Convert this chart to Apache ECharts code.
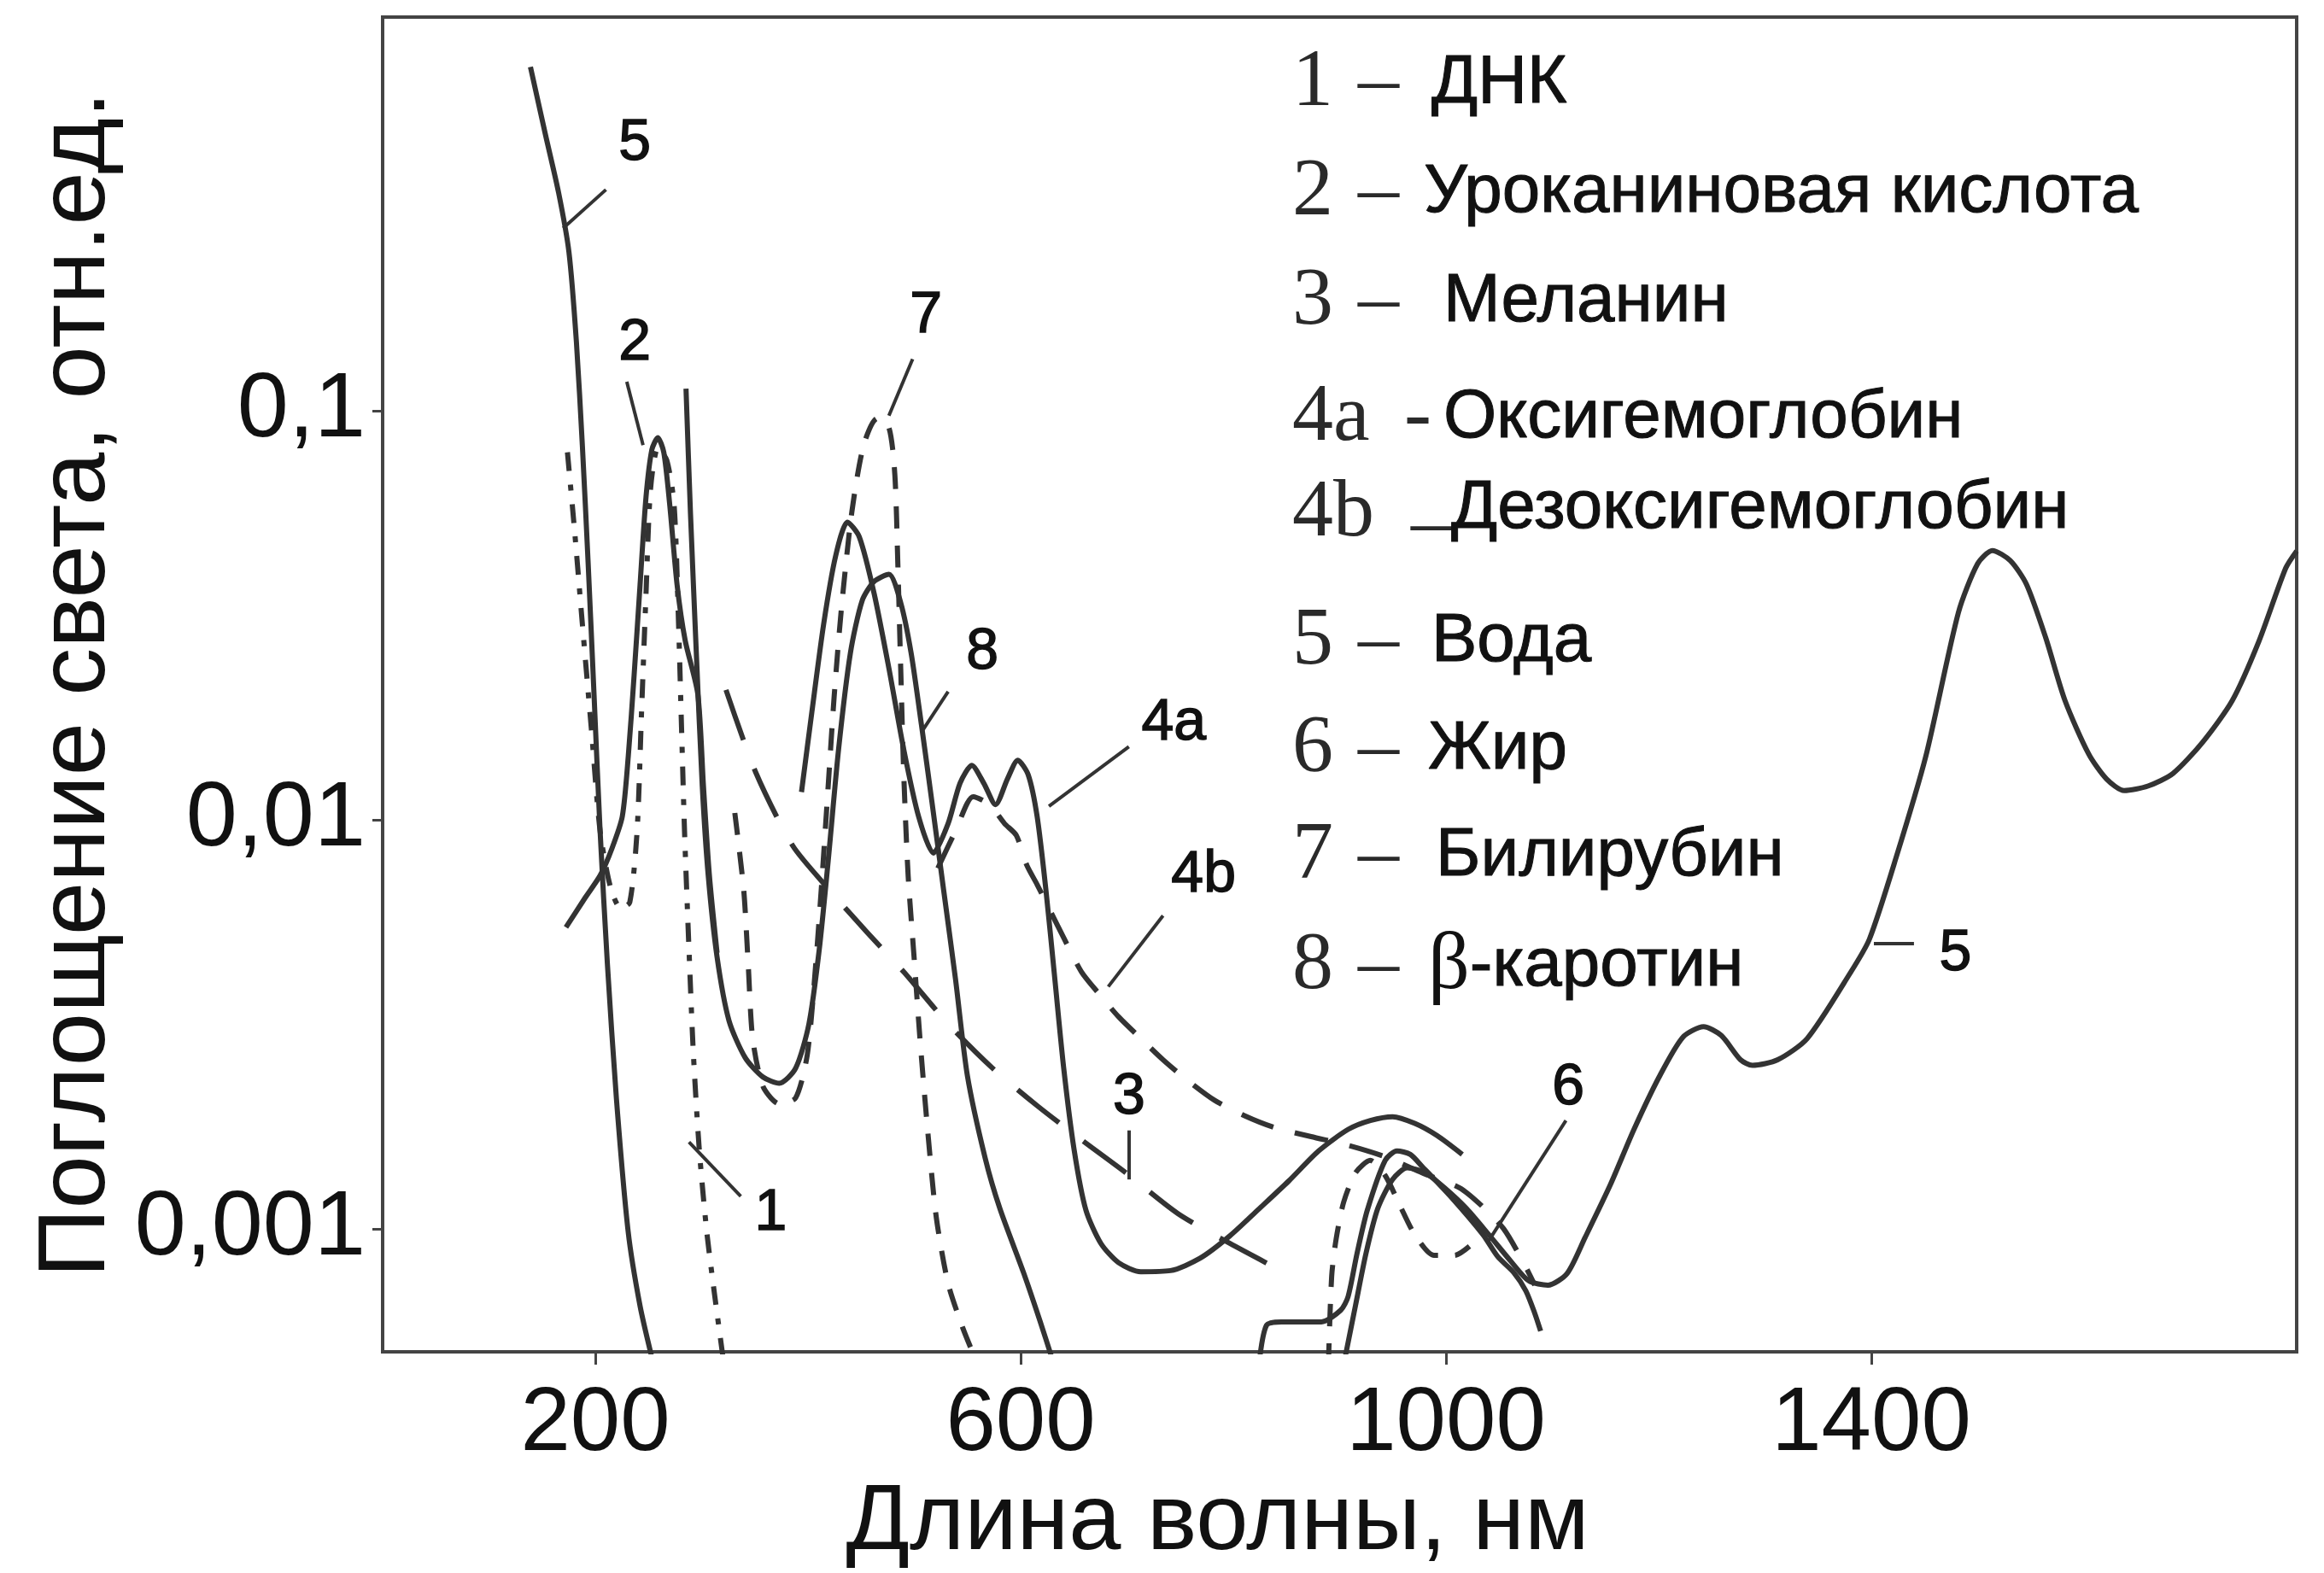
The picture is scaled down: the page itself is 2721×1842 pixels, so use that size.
<!DOCTYPE html>
<html><head><meta charset="utf-8">
<script src="https://cdn.jsdelivr.net/npm/echarts@6/dist/echarts.min.js"></script>
<style>html,body{margin:0;padding:0;background:#fff}#c{width:2721px;height:1842px}</style>
</head><body><div id="c"></div>
<script>
// ---------- DATA (wavelength nm, relative absorbance) ----------
const xTicks = [200, 600, 1000, 1400];
const yTicks = [0.001, 0.01, 0.1];
const legendNums  = ['1','2','3','4a','4b','5','6','7','8'];
const legendNames = ['ДНК','Уроканиновая кислота','Меланин','Оксигемоглобин','Дезоксигемоглобин','Вода','Жир','Билирубин','β-каротин'];

const dna = [[173.8,0.0793],[180.8,0.0500],[187.8,0.0302],[196.2,0.0168],[204.5,0.0094],[214.3,0.00684],[224.0,0.00608],[232.4,0.00629],[239.3,0.0094],[243.5,0.0184],[247.7,0.0358],[251.9,0.0643],[258.8,0.0811],[267.2,0.0759],[274.1,0.0590],[278.3,0.0302],[281.1,0.0168],[283.9,0.0094],[288.1,0.00482],[292.2,0.00269],[297.8,0.00156],[304.8,0.000984],[311.7,0.000705],[320.1,0.000484]];
const urocanic = [[172.4,0.00546],[190.6,0.00646],[204.5,0.00731],[215.6,0.00851],[225.4,0.0102],[231.0,0.0143],[236.5,0.0226],[242.1,0.0376],[247.7,0.0617],[253.2,0.0805],[258.8,0.0861],[264.4,0.0793],[270.0,0.0590],[276.9,0.0376],[284.5,0.0275],[296.4,0.0203],[301.7,0.0121],[307.3,0.00731],[314.5,0.00473]];
const melanin = [[322.9,0.0208],[350.7,0.0131],[385.6,0.00865],[420.4,0.00673],[455.2,0.00532],[490.0,0.00425],[531.8,0.00317],[573.6,0.00247],[615.5,0.0020],[657.2,0.00165],[699.0,0.00137],[747.7,0.00109],[796.6,0.000921],[849.6,0.000778]];
const oxyHb = [[393.9,0.0117],[403.7,0.0184],[414.8,0.0302],[426.0,0.0442],[437.1,0.0535],[448.3,0.0492],[462.2,0.0358],[476.1,0.0235],[490.0,0.0149],[504.0,0.0102],[517.9,0.0083],[531.8,0.0098],[543.0,0.0123],[554.1,0.0136],[565.3,0.0123],[576.4,0.0109],[587.6,0.0126],[597.3,0.0140],[607.1,0.0129],[615.5,0.0102],[623.8,0.00673],[632.2,0.00407],[640.5,0.00247],[650.3,0.00156],[661.4,0.00111],[675.4,0.000921],[692.1,0.000826],[713.0,0.000785],[740.9,0.00079],[768.7,0.000847],[796.6,0.00096],[824.4,0.00112],[852.3,0.00131],[880.2,0.00155],[908.0,0.00175],[928.9,0.00184],[949.8,0.00188],[970.7,0.00181],[991.6,0.00169],[1015.3,0.00152]];
const deoxyHb = [[522.1,0.00762],[538.8,0.0094],[555.5,0.0114],[570.8,0.0109],[584.8,0.0098],[595.9,0.00917],[605.7,0.00776],[615.5,0.00695],[626.6,0.00608],[640.5,0.00515],[657.2,0.00425],[673.9,0.00375],[692.1,0.0033],[713.0,0.00292],[733.9,0.00259],[754.8,0.00233],[782.6,0.00206],[810.5,0.00189],[838.3,0.00177],[873.2,0.00168],[908.0,0.0016],[942.9,0.0015],[977.7,0.00137],[1012.6,0.00126],[1033.3,0.00114],[1054.2,0.001],[1072.3,0.000832],[1083.5,0.000728]];
const waterUV = [[139.0,0.695],[153.0,0.476],[165.5,0.342],[175.2,0.245],[182.2,0.148],[187.8,0.0826],[193.3,0.0423],[198.9,0.0200],[204.5,0.0094],[211.4,0.00443],[219.8,0.00209],[230.9,0.000984],[242.1,0.000647],[253.2,0.000484]];
const waterIR = [[905.1,0.000484],[914.9,0.000649],[924.7,0.000869],[935.8,0.00112],[949.7,0.00132],[963.6,0.00141],[980.4,0.00137],[998.5,0.00126],[1019.4,0.00112],[1040.2,0.000968],[1061.1,0.000832],[1077.8,0.000746],[1095.9,0.000728],[1114.0,0.000778],[1130.8,0.000952],[1154.5,0.00128],[1176.8,0.00175],[1200.4,0.00235],[1222.7,0.00294],[1242.2,0.00312],[1258.9,0.00297],[1277.0,0.00259],[1288.2,0.00251],[1311.9,0.00259],[1339.7,0.00292],[1380.1,0.00422],[1398.2,0.00511],[1423.3,0.00809],[1451.2,0.0143],[1481.8,0.0321],[1499.9,0.0423],[1513.9,0.0456],[1530.6,0.0431],[1545.9,0.0377],[1564.0,0.0279],[1582.1,0.0196],[1604.4,0.0145],[1621.1,0.0126],[1637.8,0.0118],[1660.1,0.0121],[1683.8,0.0130],[1711.6,0.0155],[1739.5,0.0196],[1764.6,0.0274],[1789.7,0.0413],[1800,0.0455]];
const fat = [[824.4,0.000472],[831.3,0.000581],[845.2,0.000592],[882.8,0.000592],[901.0,0.000632],[907.9,0.000682],[916.3,0.000869],[926.0,0.00111],[942.8,0.00147],[953.9,0.00155],[966.5,0.00152],[977.6,0.00142],[1005.5,0.00119],[1034.7,0.000968],[1048.6,0.000855],[1064.0,0.00078],[1075.1,0.000705],[1083.5,0.000621],[1089.0,0.000562]];
const fatDashed = [[889.4,0.000463],[892.5,0.000766],[896.7,0.000944],[903.7,0.00116],[914.9,0.00137],[928.8,0.00147],[942.8,0.00135],[956.7,0.00114],[970.6,0.000968],[988.7,0.000861],[1008.2,0.000861],[1022.1,0.000906]];
const bilirubin = [[331.2,0.0104],[339.6,0.00673],[343.8,0.00443],[348.0,0.00292],[357.7,0.00223],[373.0,0.00202],[388.4,0.00209],[399.5,0.00268],[407.8,0.00461],[413.4,0.00731],[419.0,0.0121],[424.6,0.0200],[431.5,0.0330],[441.3,0.0568],[452.4,0.0826],[465.0,0.0959],[476.1,0.0912],[481.7,0.0698],[484.5,0.0423],[487.2,0.0235],[490.0,0.0131],[494.2,0.00731],[499.8,0.00461],[505.3,0.00292],[512.3,0.00177],[520.6,0.00107],[531.8,0.000734],[545.7,0.000571],[556.9,0.000484]];
const carotene = [[285.3,0.1135],[289.5,0.0562],[295.0,0.0256],[300.6,0.0121],[306.2,0.00731],[314.5,0.00462],[325.7,0.00323],[341.0,0.00262],[357.7,0.00235],[373.0,0.00227],[388.4,0.00247],[400.9,0.00317],[410.6,0.00482],[419.0,0.00794],[428.8,0.0149],[439.9,0.0256],[451.0,0.0344],[462.2,0.0383],[476.1,0.0399],[487.2,0.0340],[497.0,0.0256],[506.7,0.0171],[516.5,0.0111],[527.6,0.00673],[538.8,0.00407],[549.9,0.00237],[566.6,0.00149],[580.5,0.00112],[602.8,0.00078],[618.1,0.000596],[629.3,0.000484]];

// curve labels and their leader lines (data coordinates)
const curveLabels = [
  {name:'5', value:[237,0.451]}, {name:'2', value:[237,0.146]}, {name:'7', value:[511,0.171]},
  {name:'8', value:[564,0.0256]}, {name:'4a', value:[744,0.0172]}, {name:'4b', value:[772,0.0073]},
  {name:'3', value:[702,0.00209]}, {name:'1', value:[365,0.00109]}, {name:'6', value:[1115,0.00221]},
  {name:'5', value:[1479,0.0047]}
];
const leaders = [
  [[169.7,0.280],[210,0.348]], [[229.6,0.118],[244.9,0.0826]], [[498.4,0.134],[476.1,0.0975]],
  [[531.8,0.0206],[506.7,0.0164]], [[701.8,0.0151],[626.6,0.0108]], [[733.9,0.00583],[682.4,0.00391]],
  [[701.8,0.00174],[701.8,0.00132]], [[336.8,0.0012],[288.1,0.00163]], [[1112.8,0.00184],[1040.2,0.000935]],
  [[1402.4,0.00498],[1440.1,0.00498]]
];

// ---------- STYLE / LAYOUT ----------
const INK = '#333333', TXT = '#111111';
const SANS = '"Liberation Sans", Arial, sans-serif', SERIF = '"Liberation Serif", "Times New Roman", serif';
function curve(name, data, dash) {
  return {name, type:'line', data, symbol:'none', showSymbol:false, smooth:0.25, clip:true, silent:true,
    lineStyle:{color:INK, width:6, type: dash || 'solid', cap:'butt', join:'round'}, z:3};
}
const series = [
  curve('ДНК', dna, [22,16,7,16]),
  curve('Уроканиновая кислота', urocanic),
  curve('Меланин', melanin, [62,36]),
  curve('Оксигемоглобин', oxyHb),
  curve('Дезоксигемоглобин', deoxyHb, [40,26]),
  curve('Вода', waterUV),
  curve('Вода ', waterIR),
  curve('Жир', fat),
  curve('Жир ', fatDashed, [26,20]),
  curve('Билирубин', bilirubin, [26,20]),
  curve('β-каротин', carotene),
  {type:'lines', coordinateSystem:'cartesian2d', silent:true, z:4,
   data: leaders.map(c => ({coords:c})), symbol:'none',
   lineStyle:{color:INK, width:4, opacity:1, curveness:0}},
  {type:'scatter', data: curveLabels, symbolSize:2, itemStyle:{color:'rgba(255,255,255,0)'}, silent:true, z:5,
   label:{show:true, position:'inside', formatter:'{b}', fontSize:68, color:TXT, opacity:1,
          textBorderColor:TXT, textBorderWidth:1.5, fontFamily:SANS}}
];

// legend drawn as text
const rowY   = [98, 226, 354, 490, 602, 752, 878, 1003, 1132];
const dashX  = [1590,1590,1590,1644,1652,1590,1590,1590,1590];
const labelX = [1676,1667,1690,1690,1699,1676,1672,1681,1672];
const labelDY= [0,0,0,0,-6,0,0,0,0];
const graphic = [];
legendNums.forEach((n,i) => {
  graphic.push({type:'text', x:1513, y:rowY[i], silent:true,
    style:{text:n, font:'96px '+SERIF, fill:'#2a2a2a', verticalAlign:'middle'}});
  graphic.push({type:'text', x:dashX[i], y:rowY[i] + (i===4?14:0), silent:true,
    style:{text: i===3 ? '-' : '–', font:'96px '+SERIF, fill:'#2a2a2a', verticalAlign:'middle'}});
  const nm = legendNames[i];
  if (nm[0] === 'β') {
    graphic.push({type:'text', x:labelX[i], y:rowY[i]+labelDY[i], silent:true,
      style:{text:'{b|β}{t|'+nm.slice(1)+'}', verticalAlign:'middle', fill:TXT,
        rich:{b:{font:'96px '+SERIF, fill:TXT}, t:{font:'80px '+SANS, fill:TXT, stroke:TXT, lineWidth:1}}}});
  } else {
    graphic.push({type:'text', x:labelX[i], y:rowY[i]+labelDY[i], silent:true,
      style:{text:nm, font:'80px '+SANS, fill:TXT, stroke:TXT, lineWidth:1, verticalAlign:'middle'}});
  }
});

const chart = echarts.init(document.getElementById('c'), null, {renderer:'canvas'});
chart.setOption({
  animation:false,
  backgroundColor:'#fff',
  grid:{left:448, top:20, right:32, bottom:259, show:true, borderColor:'#444', borderWidth:4,
        backgroundColor:'transparent', containLabel:false, outerBoundsMode:'none'},
  xAxis:{type:'value', min:0, max:1800,
    axisLine:{show:true, onZero:false, lineStyle:{color:'#444', width:4}},
    axisTick:{show:true, inside:false, length:15, customValues:xTicks, lineStyle:{color:'#444', width:3}},
    axisLabel:{customValues:xTicks, fontSize:105, color:TXT, fontFamily:SANS, margin:34,
      formatter: v => String(v)},
    splitLine:{show:false},
    name:'Длина волны, нм', nameLocation:'middle', nameGap:146,
    nameTextStyle:{fontSize:110, color:TXT, fontFamily:SANS, padding:[0,286,0,0]}},
  yAxis:{type:'log', logBase:10, min:0.0005, max:0.92,
    axisLine:{show:true, lineStyle:{color:'#444', width:4}},
    axisTick:{show:true, inside:false, length:12, customValues:yTicks, lineStyle:{color:'#444', width:3}},
    axisLabel:{customValues:yTicks, fontSize:108, color:TXT, fontFamily:SANS, margin:20,
      formatter: v => { const e = Math.round(Math.log10(v)); return '0,' + '0'.repeat(-e-1) + '1'; }},
    splitLine:{show:false}, minorTick:{show:false},
    name:'Поглощение света, отн.ед.', nameLocation:'middle', nameGap:288,
    nameTextStyle:{fontSize:112, color:TXT, fontFamily:SANS}},
  graphic,
  series
});
</script></body></html>
